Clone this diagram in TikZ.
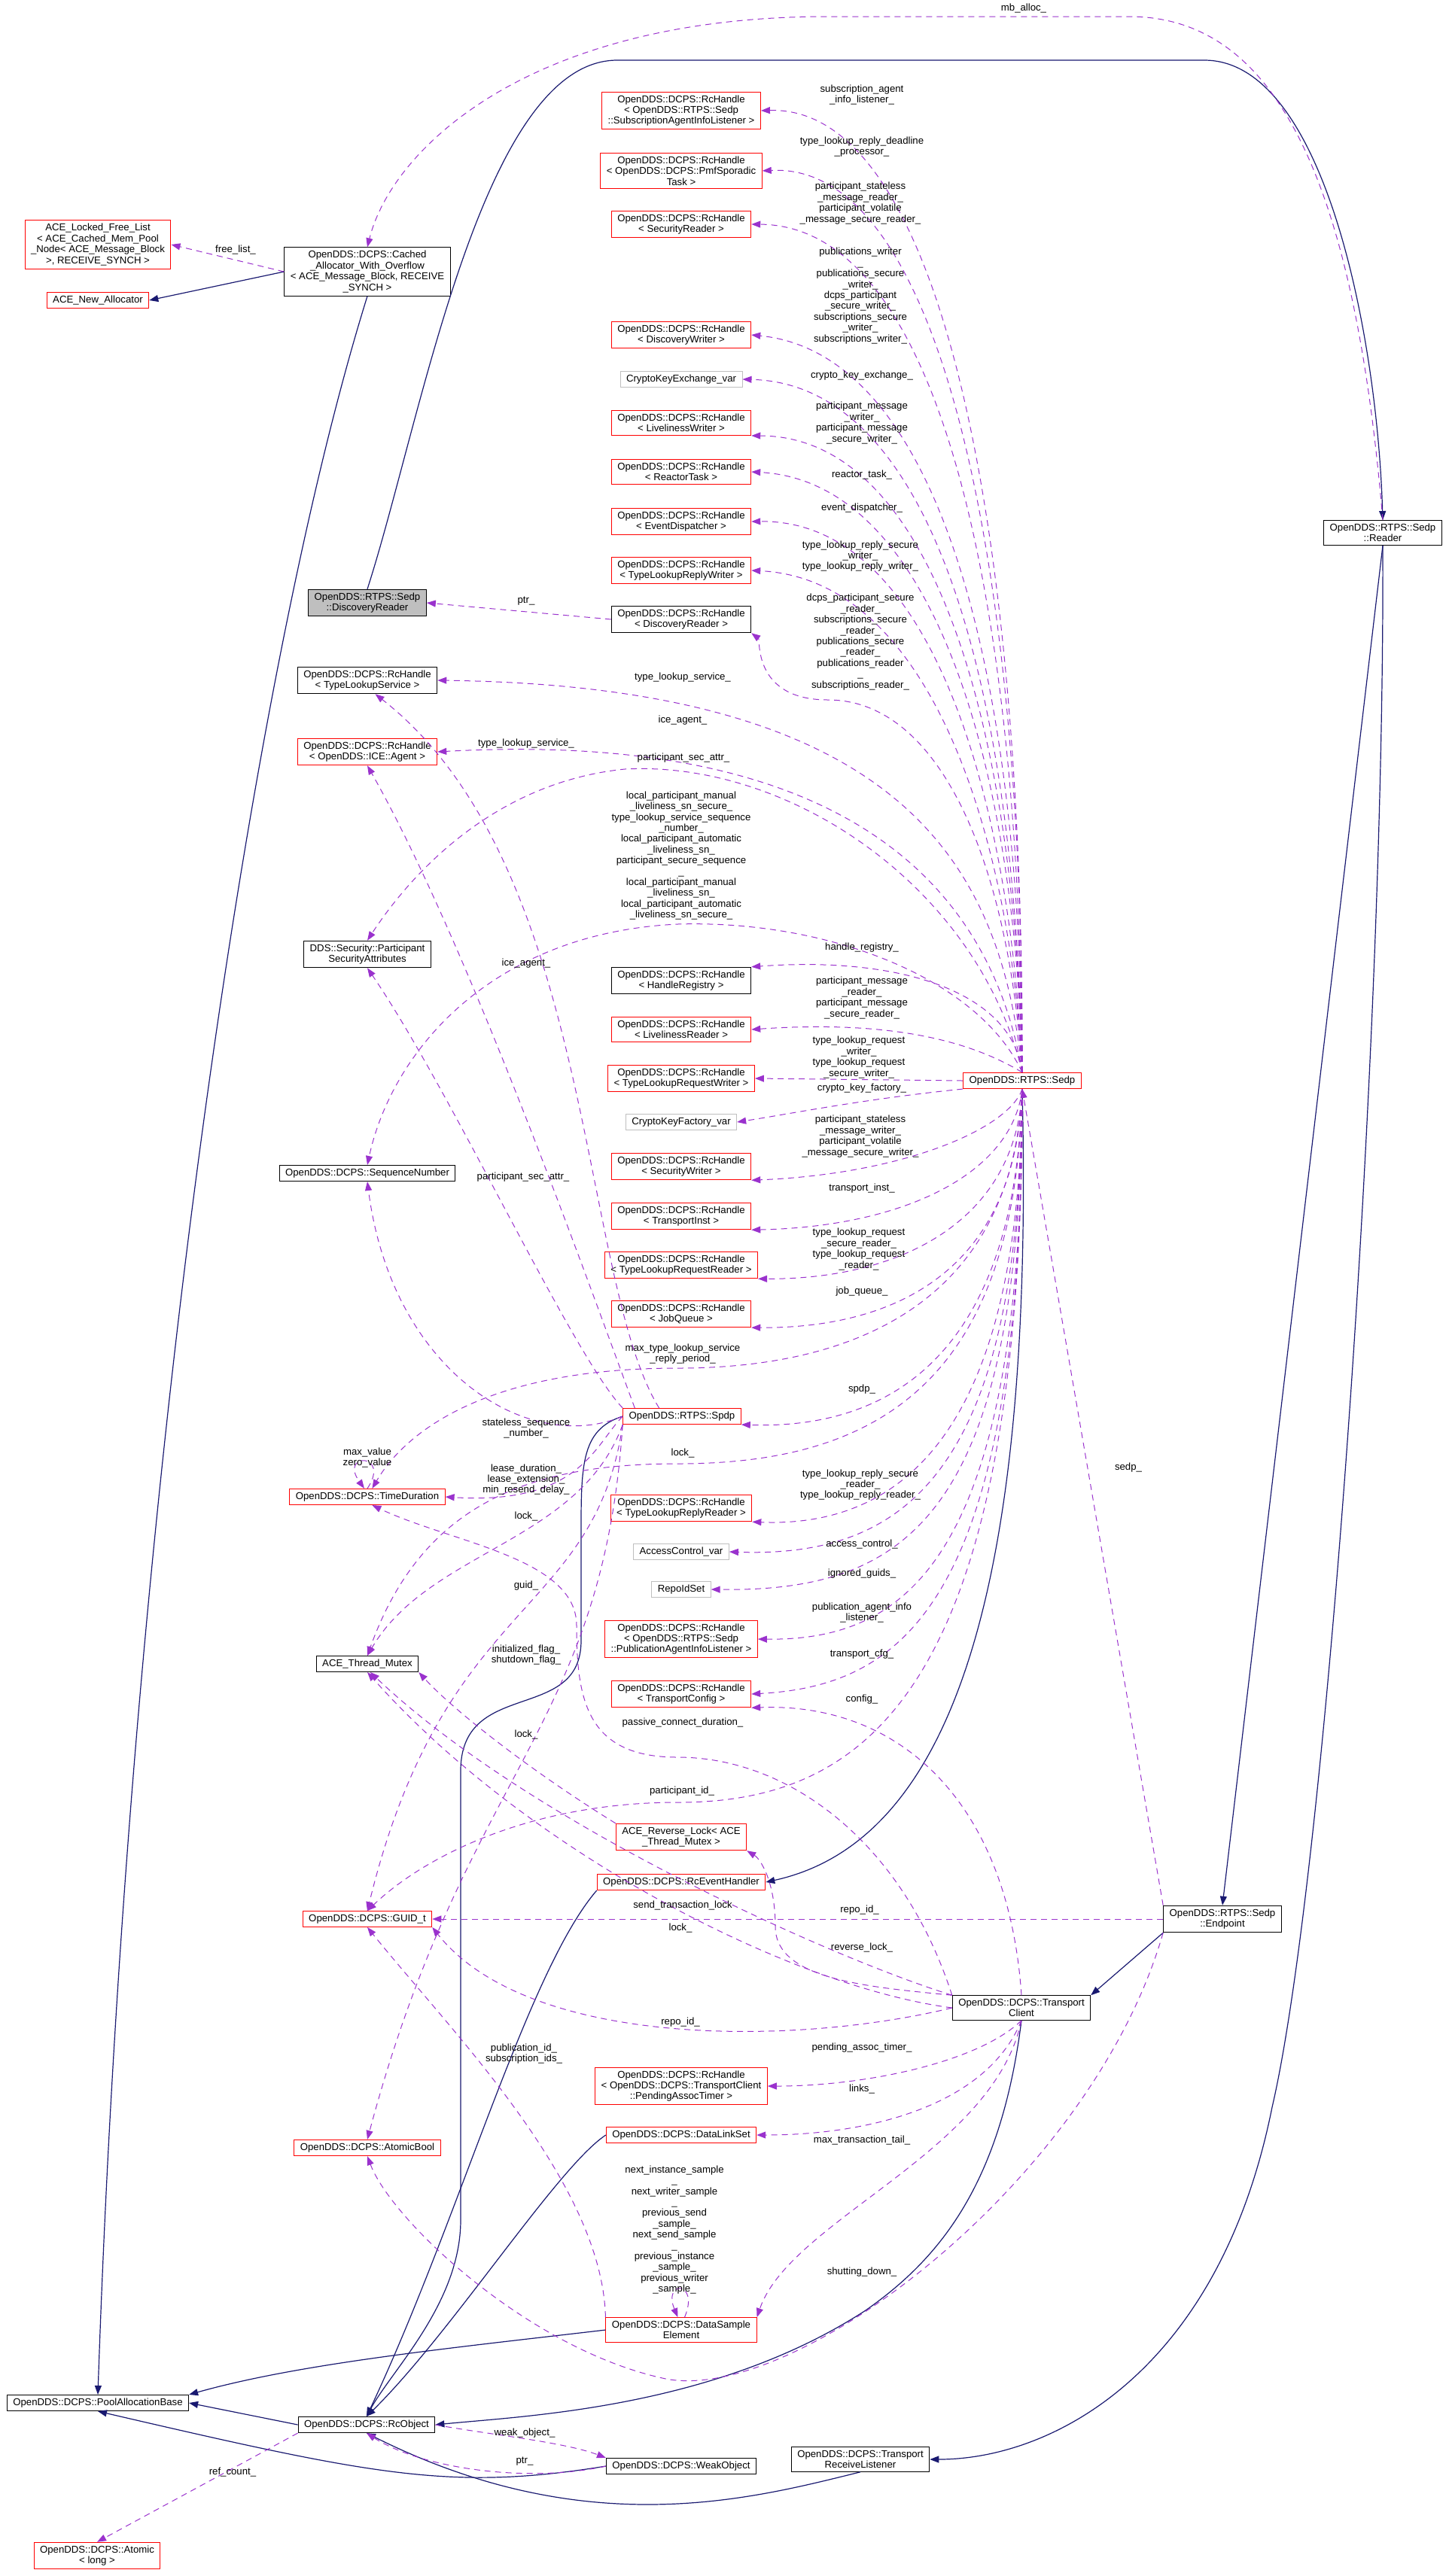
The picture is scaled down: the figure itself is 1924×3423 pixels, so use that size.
\documentclass[tikz,border=0pt]{standalone}
\usepackage{fontspec}
\setmainfont{Liberation Sans}
\usetikzlibrary{arrows.meta}
\definecolor{inhblue}{HTML}{191970}
\definecolor{usepurple}{HTML}{9A32CD}
\definecolor{extgray}{HTML}{BFBFBF}
\newcommand{\dxfont}{\fontsize{6.6}{7.2}\selectfont}

\begin{document}
\begin{tikzpicture}[x=0.5pt, y=-0.5pt,
    cls/.style={draw=black, line width=0.5pt, rectangle, align=center, inner xsep=4pt, inner ysep=2.2pt, font=\dxfont},
    redcls/.style={cls, draw=red},
    extcls/.style={cls, draw=extgray},
    focus/.style={cls, fill=extgray},
    lbl/.style={align=center, inner sep=0pt, font=\dxfont},
    inh/.style={draw=inhblue, line width=0.6pt, -{Triangle[length=6pt,width=4.5pt]}},
    mem/.style={draw=usepurple, line width=0.5pt, dash pattern=on 4pt off 3pt, -{Triangle[length=6pt,width=4.5pt,fill=usepurple]}}]

    \useasboundingbox (0,0) rectangle (1924,3423);

    %% ------
    %% Classes, placed on fixed coordinates
    %% (left block, right column, far right)
    %% ----

    % allocator block
    \node[redcls] (lfl) at (130,325) {ACE\_Locked\_Free\_List\\< ACE\_Cached\_Mem\_Pool\\\_Node< ACE\_Message\_Block\\>, RECEIVE\_SYNCH >};
    \node[redcls] (newalloc) at (130,399) {ACE\_New\_Allocator};
    \node[cls] (cached) at (488,361) {OpenDDS::DCPS::Cached\\\_Allocator\_With\_Overflow\\< ACE\_Message\_Block, RECEIVE\\\_SYNCH >};

    % middle column
    \node[focus] (disc) at (488,801) {OpenDDS::RTPS::Sedp\\::DiscoveryReader};
    \node[cls] (tls) at (488,904) {OpenDDS::DCPS::RcHandle\\< TypeLookupService >};
    \node[redcls] (ice) at (488,999) {OpenDDS::DCPS::RcHandle\\< OpenDDS::ICE::Agent >};
    \node[cls] (psa) at (488,1268) {DDS::Security::Participant\\SecurityAttributes};
    \node[cls] (seqnum) at (488,1559) {OpenDDS::DCPS::SequenceNumber};
    \node[redcls] (timedur) at (488,1989) {OpenDDS::DCPS::TimeDuration};
    \node[cls] (mutex) at (488,2211) {ACE\_Thread\_Mutex};
    \node[redcls] (guid) at (488,2550) {OpenDDS::DCPS::GUID\_t};
    \node[redcls] (abool) at (488,2854) {OpenDDS::DCPS::AtomicBool};
    \node[cls] (pool) at (130,3193) {OpenDDS::DCPS::PoolAllocationBase};
    \node[cls] (rcobj) at (487,3222) {OpenDDS::DCPS::RcObject};
    \node[redcls] (atomic) at (129,3396) {OpenDDS::DCPS::Atomic\\< long >};

    % right column
    \node[redcls] (subagent) at (905,147) {OpenDDS::DCPS::RcHandle\\< OpenDDS::RTPS::Sedp\\::SubscriptionAgentInfoListener >};
    \node[redcls] (pmf) at (905,227) {OpenDDS::DCPS::RcHandle\\< OpenDDS::DCPS::PmfSporadic\\Task >};
    \node[redcls] (secreader) at (905,298) {OpenDDS::DCPS::RcHandle\\< SecurityReader >};
    \node[redcls] (discwriter) at (905,445) {OpenDDS::DCPS::RcHandle\\< DiscoveryWriter >};
    \node[extcls] (cke) at (905,504) {CryptoKeyExchange\_var};
    \node[redcls] (livw) at (905,562) {OpenDDS::DCPS::RcHandle\\< LivelinessWriter >};
    \node[redcls] (reactor) at (905,627) {OpenDDS::DCPS::RcHandle\\< ReactorTask >};
    \node[redcls] (evdisp) at (905,693) {OpenDDS::DCPS::RcHandle\\< EventDispatcher >};
    \node[redcls] (tlrw) at (905,758) {OpenDDS::DCPS::RcHandle\\< TypeLookupReplyWriter >};
    \node[cls] (rcdr) at (905,823) {OpenDDS::DCPS::RcHandle\\< DiscoveryReader >};
    \node[cls] (hreg) at (905,1303) {OpenDDS::DCPS::RcHandle\\< HandleRegistry >};
    \node[redcls] (livr) at (905,1368) {OpenDDS::DCPS::RcHandle\\< LivelinessReader >};
    \node[redcls] (tlreqw) at (905,1433) {OpenDDS::DCPS::RcHandle\\< TypeLookupRequestWriter >};
    \node[extcls] (ckf) at (905,1491) {CryptoKeyFactory\_var};
    \node[redcls] (secw) at (905,1550) {OpenDDS::DCPS::RcHandle\\< SecurityWriter >};
    \node[redcls] (tinst) at (905,1616) {OpenDDS::DCPS::RcHandle\\< TransportInst >};
    \node[redcls] (tlreqr) at (905,1681) {OpenDDS::DCPS::RcHandle\\< TypeLookupRequestReader >};
    \node[redcls] (jobq) at (905,1746) {OpenDDS::DCPS::RcHandle\\< JobQueue >};
    \node[redcls] (spdp) at (906,1882) {OpenDDS::RTPS::Spdp};
    \node[redcls] (tlrepr) at (905,2004) {OpenDDS::DCPS::RcHandle\\< TypeLookupReplyReader >};
    \node[extcls] (acv) at (905,2062) {AccessControl\_var};
    \node[extcls] (reposet) at (905,2112) {RepoIdSet};
    \node[redcls] (pail) at (905,2178) {OpenDDS::DCPS::RcHandle\\< OpenDDS::RTPS::Sedp\\::PublicationAgentInfoListener >};
    \node[redcls] (tconfig) at (905,2251) {OpenDDS::DCPS::RcHandle\\< TransportConfig >};
    \node[redcls] (revlock) at (905,2441) {ACE\_Reverse\_Lock< ACE\\\_Thread\_Mutex >};
    \node[redcls] (rcevh) at (905,2501) {OpenDDS::DCPS::RcEventHandler};
    \node[redcls] (pat) at (905,2772) {OpenDDS::DCPS::RcHandle\\< OpenDDS::DCPS::TransportClient\\::PendingAssocTimer >};
    \node[redcls] (dls) at (905,2837) {OpenDDS::DCPS::DataLinkSet};
    \node[redcls] (dse) at (905,3096) {OpenDDS::DCPS::DataSample\\Element};
    \node[cls] (weak) at (905,3277) {OpenDDS::DCPS::WeakObject};

    % Sedp and friends
    \node[redcls] (sedp) at (1358,1436) {OpenDDS::RTPS::Sedp};
    \node[cls] (tclient) at (1357,2668) {OpenDDS::DCPS::Transport\\Client};
    \node[cls] (reader) at (1837,708) {OpenDDS::RTPS::Sedp\\::Reader};
    \node[cls] (endpoint) at (1624,2550) {OpenDDS::RTPS::Sedp\\::Endpoint};
    \node[cls] (trl) at (1143,3268) {OpenDDS::DCPS::Transport\\ReceiveListener};

    %% ------
    %% Inheritance (solid blue)
    %% ----
    \draw[inh] (cached.west) -- (newalloc.east);
    \draw[inh] (cached.south) .. controls (330,900) and (170,2000) .. (pool.north);
    \draw[inh] (disc.north) .. controls (560,560) and (640,80) .. (820,80) -- (1600,80) .. controls (1760,80) and (1830,450) .. (reader.north);
    \draw[inh] (reader.south) -- (endpoint.north);
    \draw[inh] (reader.south) .. controls (1840,1400) and (1760,2500) .. (1690,2800) .. controls (1620,3150) and (1400,3268) .. (trl.east);
    \draw[inh] (endpoint.south west) -- (tclient.north east);
    \draw[inh] (sedp.south) .. controls (1375,2150) and (1250,2450) .. (rcevh.east);
    \draw[inh] (spdp.west) .. controls (770,1900) and (772,1950) .. (772,2050) -- (772,2180) .. controls (772,2290) and (615,2230) .. (612,2350) -- (612,2950) .. controls (612,3060) and (520,3150) .. (rcobj.north);
    \draw[inh] (rcevh.south west) .. controls (700,2620) and (610,2950) .. (rcobj.north);
    \draw[inh] (dls.west) .. controls (740,2880) and (600,3100) .. (rcobj.north);
    \draw[inh] (tclient.south) .. controls (1330,2900) and (1250,3000) .. (1150,3070) .. controls (950,3200) and (700,3210) .. (rcobj.east);
    \draw[inh] (trl.south) .. controls (1000,3320) and (780,3380) .. (rcobj.south);
    \draw[inh] (rcobj.west) -- (pool.east);
    \draw[inh] (dse.west) .. controls (600,3120) and (400,3140) .. (pool.north east);
    \draw[inh] (weak.west) .. controls (600,3310) and (500,3290) .. (pool.south);

    %% ------
    %% Usage (dashed purple), with the labels
    %% ----

    % allocator block
    \draw[mem] (cached.west) -- (lfl.east);
    \node[lbl] (lFree) at (313,332) {free\_list\_};
    \draw[mem] (reader.north) .. controls (1800,250) and (1700,22) .. (1500,22) -- (1100,22) .. controls (700,22) and (520,200) .. (cached.north);
    \node[lbl] (lMb) at (1360,11) {mb\_alloc\_};
    \draw[mem] (rcdr.west) -- (disc.east);
    \node[lbl] (lPtr) at (699,799) {ptr\_};

    % Sedp -> upper right column
    \draw[mem] (sedp.north) .. controls (1360,700) and (1250,140) .. (subagent.east);
    \node[lbl] (lSub) at (1145,126) {subscription\_agent\\\_info\_listener\_};
    \draw[mem] (sedp.north) .. controls (1360,750) and (1250,215) .. (pmf.east);
    \node[lbl] (lPmf) at (1145,195) {type\_lookup\_reply\_deadline\\\_processor\_};
    \draw[mem] (sedp.north) .. controls (1355,800) and (1250,300) .. (secreader.east);
    \node[lbl] (lSecR) at (1143,270) {participant\_stateless\\\_message\_reader\_\\participant\_volatile\\\_message\_secure\_reader\_};
    \draw[mem] (sedp.north) .. controls (1355,900) and (1250,470) .. (discwriter.east);
    \node[lbl] (lDiscW) at (1143,393) {publications\_writer\\\_\\publications\_secure\\\_writer\_\\dcps\_participant\\\_secure\_writer\_\\subscriptions\_secure\\\_writer\_\\subscriptions\_writer\_};
    \draw[mem] (sedp.north) .. controls (1350,950) and (1250,510) .. (cke.east);
    \node[lbl] (lCke) at (1145,499) {crypto\_key\_exchange\_};
    \draw[mem] (sedp.north) .. controls (1350,1000) and (1250,580) .. (livw.south east);
    \node[lbl] (lLivW) at (1145,562) {participant\_message\\\_writer\_\\participant\_message\\\_secure\_writer\_};
    \draw[mem] (sedp.north) .. controls (1350,1050) and (1250,640) .. (reactor.east);
    \node[lbl] (lReact) at (1145,631) {reactor\_task\_};
    \draw[mem] (sedp.north) .. controls (1345,1100) and (1250,690) .. (evdisp.east);
    \node[lbl] (lEvD) at (1145,675) {event\_dispatcher\_};
    \draw[mem] (sedp.north) .. controls (1345,1150) and (1250,770) .. (tlrw.east);
    \node[lbl] (lTlrw) at (1143,739) {type\_lookup\_reply\_secure\\\_writer\_\\type\_lookup\_reply\_writer\_};
    \draw[mem] (sedp.north) .. controls (1340,1150) and (1250,930) .. (1100,930) .. controls (1000,930) and (1010,850) .. (rcdr.south east);
    \node[lbl] (lRcdr) at (1143,853) {dcps\_participant\_secure\\\_reader\_\\subscriptions\_secure\\\_reader\_\\publications\_secure\\\_reader\_\\publications\_reader\\\_\\subscriptions\_reader\_};

    % Sedp -> middle column, upper half
    \draw[mem] (sedp.north) .. controls (1330,1150) and (1200,912) .. (tls.east);
    \node[lbl] (lTls) at (907,900) {type\_lookup\_service\_};
    \draw[mem] (sedp.north) .. controls (1320,1200) and (1150,968) .. (ice.east);
    \node[lbl] (lIce) at (907,957) {ice\_agent\_};
    \draw[mem] (sedp.north) .. controls (1300,1180) and (1050,1010) .. (830,1022) .. controls (650,1040) and (540,1170) .. (psa.north);
    \node[lbl] (lPsa) at (908,1007) {participant\_sec\_attr\_};
    \draw[mem] (sedp.north) .. controls (1300,1300) and (1100,1222) .. (900,1228) .. controls (650,1240) and (520,1400) .. (seqnum.north);
    \node[lbl] (lSeq) at (905,1137) {local\_participant\_manual\\\_liveliness\_sn\_secure\_\\type\_lookup\_service\_sequence\\\_number\_\\local\_participant\_automatic\\\_liveliness\_sn\_\\participant\_secure\_sequence\\\_\\local\_participant\_manual\\\_liveliness\_sn\_\\local\_participant\_automatic\\\_liveliness\_sn\_secure\_};

    % Sedp -> right column, around Sedp
    \draw[mem] (sedp.north) .. controls (1345,1320) and (1200,1270) .. (hreg.north east);
    \node[lbl] (lHreg) at (1145,1259) {handle\_registry\_};
    \draw[mem] (sedp.north) .. controls (1300,1390) and (1200,1354) .. (livr.east);
    \node[lbl] (lLivR) at (1145,1326) {participant\_message\\\_reader\_\\participant\_message\\\_secure\_reader\_};
    \draw[mem] (sedp.west) -- (tlreqw.east);
    \node[lbl] (lTlqw) at (1141,1405) {type\_lookup\_request\\\_writer\_\\type\_lookup\_request\\\_secure\_writer\_};
    \draw[mem] (sedp.south west) .. controls (1150,1460) and (1050,1480) .. (ckf.east);
    \node[lbl] (lCkf) at (1145,1446) {crypto\_key\_factory\_};
    \draw[mem] (sedp.south) .. controls (1340,1500) and (1200,1560) .. (secw.south east);
    \node[lbl] (lSecW) at (1143,1510) {participant\_stateless\\\_message\_writer\_\\participant\_volatile\\\_message\_secure\_writer\_};
    \draw[mem] (sedp.south) .. controls (1345,1560) and (1200,1630) .. (tinst.south east);
    \node[lbl] (lTinst) at (1145,1579) {transport\_inst\_};
    \draw[mem] (sedp.south) .. controls (1350,1620) and (1200,1700) .. (tlreqr.south east);
    \node[lbl] (lTlqr) at (1141,1660) {type\_lookup\_request\\\_secure\_reader\_\\type\_lookup\_request\\\_reader\_};
    \draw[mem] (sedp.south) .. controls (1350,1680) and (1200,1765) .. (jobq.south east);
    \node[lbl] (lJobq) at (1145,1716) {job\_queue\_};
    \draw[mem] (sedp.south) .. controls (1345,1720) and (1150,1818) .. (900,1818) .. controls (650,1818) and (540,1900) .. (timedur.60);
    \node[lbl] (lMaxT) at (907,1799) {max\_type\_lookup\_service\\\_reply\_period\_};
    \draw[mem] (sedp.south) .. controls (1350,1780) and (1200,1900) .. (spdp.south east);
    \node[lbl] (lSpdp) at (1145,1846) {spdp\_};
    \draw[mem] (sedp.south) .. controls (1350,1850) and (1150,1945) .. (900,1945) .. controls (700,1945) and (560,2000) .. (mutex.north);
    \node[lbl] (lLockS) at (907,1931) {lock\_};

    % Sedp -> right column, lower half
    \draw[mem] (sedp.south) .. controls (1355,1900) and (1200,2030) .. (tlrepr.south east);
    \node[lbl] (lTlrr) at (1143,1973) {type\_lookup\_reply\_secure\\\_reader\_\\type\_lookup\_reply\_reader\_};
    \draw[mem] (sedp.south) .. controls (1355,1960) and (1200,2070) .. (acv.east);
    \node[lbl] (lAcv) at (1145,2052) {access\_control\_};
    \draw[mem] (sedp.south) .. controls (1355,2020) and (1200,2115) .. (reposet.east);
    \node[lbl] (lRepo) at (1145,2091) {ignored\_guids\_};
    \draw[mem] (sedp.south) .. controls (1360,2080) and (1200,2180) .. (pail.east);
    \node[lbl] (lPail) at (1145,2143) {publication\_agent\_info\\\_listener\_};
    \draw[mem] (sedp.south) .. controls (1360,2130) and (1200,2240) .. (tconfig.east);
    \node[lbl] (lTcfg) at (1145,2198) {transport\_cfg\_};
    \draw[mem] (sedp.south) .. controls (1360,2250) and (1150,2395) .. (900,2395) .. controls (700,2395) and (560,2470) .. (guid.north);
    \node[lbl] (lPid) at (906,2380) {participant\_id\_};

    % Spdp -> middle column
    \draw[mem] (spdp.160) .. controls (770,1700) and (790,1150) .. (tls.-60);
    \node[lbl] (lTls2) at (699,988) {type\_lookup\_service\_};
    \draw[mem] (spdp.170) .. controls (780,1700) and (620,1250) .. (ice.south);
    \node[lbl] (lIce2) at (699,1280) {ice\_agent\_};
    \draw[mem] (spdp.north west) .. controls (760,1800) and (600,1450) .. (psa.south);
    \node[lbl] (lPsa2) at (695,1564) {participant\_sec\_attr\_};
    \draw[mem] (spdp.west) .. controls (700,1935) and (520,1820) .. (seqnum.south);
    \node[lbl] (lSeq2) at (699,1898) {stateless\_sequence\\\_number\_};
    \draw[mem] (spdp.west) .. controls (790,1920) and (770,2000) .. (timedur.east);
    \node[lbl] (lLease) at (699,1966) {lease\_duration\_\\lease\_extension\_\\min\_resend\_delay\_};
    \draw[mem] (timedur.north) .. controls (520,1930) and (450,1930) .. (timedur.110);
    \node[lbl] (lMax) at (488,1937) {max\_value\\zero\_value};
    \draw[mem] (spdp.south west) .. controls (770,2050) and (570,2060) .. (mutex.north);
    \node[lbl] (lLockP) at (699,2015) {lock\_};
    \draw[mem] (spdp.south west) .. controls (790,2150) and (590,2120) .. (guid.north);
    \node[lbl] (lGuid) at (699,2107) {guid\_};
    \draw[mem] (spdp.south west) .. controls (800,2300) and (620,2350) .. (abool.north);
    \node[lbl] (lInit) at (699,2199) {initialized\_flag\_\\shutdown\_flag\_};

    % TransportClient
    \draw[mem] (tclient.north west) .. controls (1200,2450) and (1050,2335) .. (900,2335) .. controls (780,2335) and (766,2260) .. (766,2160) .. controls (766,2070) and (600,2050) .. (timedur.-60);
    \node[lbl] (lPass) at (907,2289) {passive\_connect\_duration\_};
    \draw[mem] (tclient.north) .. controls (1340,2400) and (1200,2262) .. (tconfig.south east);
    \node[lbl] (lCfg) at (1145,2258) {config\_};
    \draw[mem] (tclient.north west) .. controls (1150,2640) and (1030,2630) .. (1030,2560) .. controls (1030,2500) and (1010,2470) .. (revlock.south east);
    \node[lbl] (lRev) at (1145,2588) {reverse\_lock\_};
    \draw[mem] (revlock.north west) .. controls (700,2350) and (600,2270) .. (mutex.south east);
    \node[lbl] (lLockR) at (699,2305) {lock\_};
    \draw[mem] (tclient.west) .. controls (1050,2640) and (700,2460) .. (mutex.south);
    \node[lbl] (lSend) at (907,2532) {send\_transaction\_lock};
    \draw[mem] (tclient.north west) .. controls (1100,2600) and (700,2420) .. (mutex.-70);
    \node[lbl] (lLockT) at (904,2562) {lock\_};
    \draw[mem] (tclient.west) .. controls (1050,2720) and (700,2720) .. (guid.south east);
    \node[lbl] (lRepo2) at (904,2687) {repo\_id\_};
    \draw[mem] (tclient.south) .. controls (1300,2740) and (1150,2772) .. (pat.east);
    \node[lbl] (lPat) at (1145,2721) {pending\_assoc\_timer\_};
    \draw[mem] (tclient.south) .. controls (1310,2800) and (1150,2837) .. (dls.east);
    \node[lbl] (lLinks) at (1145,2776) {links\_};
    \draw[mem] (tclient.south) .. controls (1320,2860) and (1050,2950) .. (dse.north east);
    \node[lbl] (lMaxTail) at (1145,2844) {max\_transaction\_tail\_};

    % Endpoint
    \draw[mem] (endpoint.north west) -- (sedp.south);
    \node[lbl] (lSedp) at (1499,1950) {sedp\_};
    \draw[mem] (endpoint.west) -- (guid.east);
    \node[lbl] (lRepo3) at (1142,2538) {repo\_id\_};
    \draw[mem] (endpoint.south west) .. controls (1450,2900) and (1050,3200) .. (880,3160) .. controls (700,3120) and (520,2950) .. (abool.south);
    \node[lbl] (lShut) at (1145,3019) {shutting\_down\_};

    % DataSampleElement
    \draw[mem] (dse.north west) .. controls (800,2900) and (600,2700) .. (guid.south);
    \node[lbl] (lPub) at (696,2729) {publication\_id\_\\subscription\_ids\_};
    \draw[mem] (dse.75) .. controls (930,3030) and (880,3030) .. (dse.105);
    \node[lbl] (lNext) at (896,2963) {next\_instance\_sample\\\_\\next\_writer\_sample\\\_\\previous\_send\\\_sample\_\\next\_send\_sample\\\_\\previous\_instance\\\_sample\_\\previous\_writer\\\_sample\_};

    % RcObject
    \draw[mem] (rcobj.east) .. controls (650,3235) and (750,3245) .. (weak.north west);
    \node[lbl] (lWeak) at (697,3233) {weak\_object\_};
    \draw[mem] (weak.west) .. controls (700,3300) and (560,3280) .. (rcobj.south);
    \node[lbl] (lPtr2) at (697,3271) {ptr\_};
    \draw[mem] (rcobj.south west) -- (atomic.north);
    \node[lbl] (lRef) at (309,3285) {ref\_count\_};

\end{tikzpicture}
\end{document}
